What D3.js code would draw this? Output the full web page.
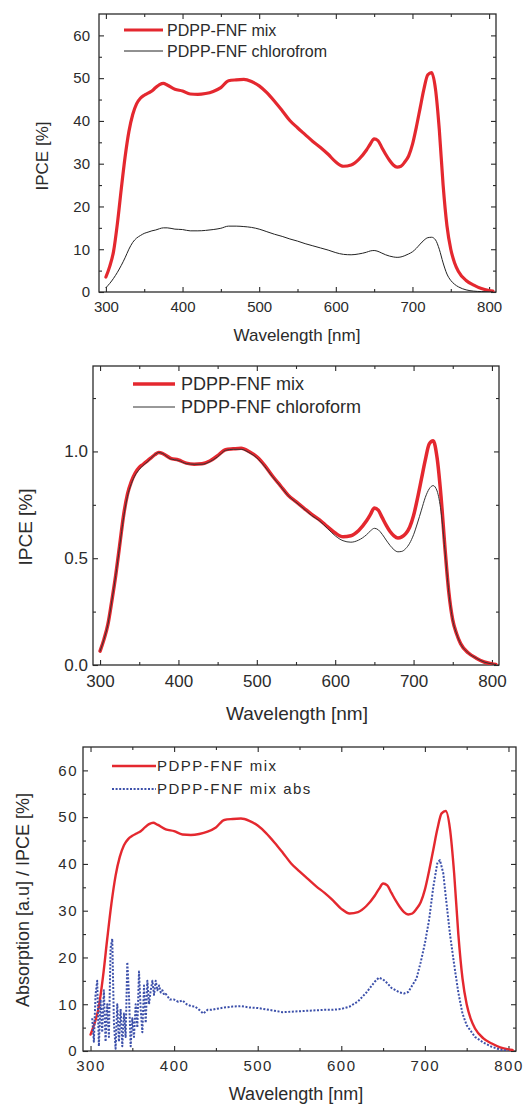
<!DOCTYPE html>
<html>
<head>
<meta charset="utf-8">
<script src="https://cdn.jsdelivr.net/npm/d3@7"></script>
<style>
  body { margin: 0; background: #fff; }
  svg { display: block; font-family: "Liberation Sans", Arial, sans-serif; }
</style>
</head>
<body>
<script>
// wavelength grid used by the IPCE curves (nm)
var wavelength = [300,305,310,315,320,325,330,335,340,345,350,355,360,365,370,375,380,
  390,400,410,420,430,440,450,460,470,480,490,500,510,520,530,540,550,560,570,580,590,600,610,620,630,640,
  645,650,655,660,665,670,675,680,685,690,695,700,705,710,715,720,725,730,735,740,745,750,755,760,
  770,780,790,800,805];

// IPCE [%] - PDPP-FNF mix
var ipceMix = [3.5,6,9.5,16,24,31.5,37.5,41.5,44,45.3,46,46.5,47,47.8,48.5,48.8,48.4,
  47.4,47,46.3,46.2,46.4,46.9,47.8,49.4,49.6,49.7,49.2,48.2,46.6,44.6,42.4,40.1,38.4,36.8,35.2,33.8,32.2,30.4,29.4,29.7,31,33.2,
  34.6,35.8,35.4,33.8,32.2,30.8,29.7,29.2,29.4,30.4,31.8,34.5,38.5,43,47.5,50.8,51.3,47.5,38,25,15.5,10,6.8,4.8,
  2.7,1.6,0.8,0.35,0.2];

// IPCE [%] - PDPP-FNF chloroform
var ipceChloroform = [1,2,3.2,4.6,6.2,8,10,11.6,12.6,13.2,13.7,14,14.3,14.5,14.8,15,15,
  14.7,14.6,14.3,14.3,14.4,14.6,14.9,15.4,15.4,15.3,15.1,14.7,14.1,13.5,13,12.4,11.9,11.3,10.8,10.3,9.8,9.2,8.8,8.7,8.9,9.3,
  9.6,9.7,9.5,9.1,8.7,8.4,8.2,8.1,8.2,8.5,8.9,9.4,10.2,11.2,12.1,12.7,12.8,12.2,10,6.8,4.2,2.7,1.8,1.2,
  0.5,0.2,0.1,0.05,0.03];

// normalised IPCE (middle panel)
var normMix = [0.065,0.12,0.19,0.3,0.42,0.56,0.7,0.8,0.86,0.9,0.925,0.94,0.955,0.97,0.985,0.995,0.99,
  0.968,0.96,0.945,0.94,0.942,0.955,0.98,1.008,1.012,1.015,1.0,0.975,0.935,0.885,0.84,0.795,0.765,0.735,0.705,0.68,0.648,0.618,0.6,0.605,0.63,0.675,
  0.705,0.735,0.725,0.69,0.655,0.625,0.605,0.595,0.6,0.615,0.645,0.7,0.78,0.87,0.96,1.035,1.05,0.97,0.79,0.55,0.34,0.21,0.145,0.1,
  0.056,0.032,0.014,0.005,0.002];

var normChloroform = [0.065,0.12,0.19,0.3,0.42,0.555,0.69,0.79,0.85,0.89,0.915,0.935,0.95,0.968,0.985,0.995,0.99,
  0.965,0.958,0.943,0.94,0.94,0.952,0.975,1.005,1.01,1.01,0.995,0.97,0.93,0.882,0.838,0.793,0.762,0.732,0.7,0.675,0.64,0.605,0.582,0.575,0.585,0.61,
  0.628,0.64,0.633,0.612,0.585,0.56,0.54,0.53,0.532,0.545,0.57,0.61,0.665,0.725,0.785,0.825,0.84,0.815,0.72,0.54,0.34,0.21,0.145,0.1,
  0.056,0.032,0.014,0.005,0.002];

// absorption of the mix film (a.u.), noisy in the UV
var absWavelength = [302,304,306,308,310,312,314,316,318,320,322,324,326,328,330,332,334,336,338,340,
  342,344,346,348,350,352,354,356,358,360,362,364,366,368,370,372,374,376,378,380,
  382,384,386,388,390,395,400,405,410,415,420,425,430,435,440,445,450,460,470,480,490,500,
  510,520,530,540,550,560,570,580,590,600,610,620,630,640,645,650,655,660,670,675,680,
  690,695,700,705,710,715,718,722,725,730,735,740,745,750,760,770,780,790,800];
var absMix = [7,2,12,15,1,11,4,13,2,10,3,22,24,6,0.5,10,2,9,1,8,
  3,19,12,1,7,3,10,5,17,9,4,14,6,15,10,13,15,12,15,13,
  14,12.5,13,12,12.2,11,11,10.5,10.8,10,9.6,9.5,8.8,8,8.8,8.8,9,9.3,9.5,9.6,9.3,9.2,
  8.9,8.6,8.3,8.4,8.5,8.6,8.7,8.8,8.8,9,9.5,10.6,12.5,14.8,15.7,15.3,14.5,13.5,12.5,12.3,12.6,
  15.5,19,23,28,35,40.3,40.8,38,33,25,18.5,12.5,8,5.5,3,1.8,0.9,0.3,0];

var xTicks = [300,400,500,600,700,800];
var xMinor = [350,450,550,650,750];
var ipceTicks = [0,10,20,30,40,50,60];
var ipceMinor = [5,15,25,35,45,55];
var normTicks = [0,0.5,1.0];
var normMinor = [0.25,0.75,1.25];

var RED = "#e4282f";
var INK = "#2b2b2b";

var svg = d3.select("body").append("svg")
  .attr("width", 525)
  .attr("height", 1106);

function drawPanel(o){
  var x = d3.scaleLinear().domain([291, 809]).range([o.left, o.right]);
  var y = d3.scaleLinear().domain(o.yDomain).range([o.bottom, o.top]);
  var g = svg.append("g").attr("class", o.id);

  var clipId = "clip-" + o.id;
  g.append("clipPath").attr("id", clipId)
    .append("rect")
    .attr("x", o.left).attr("y", o.top)
    .attr("width", o.right - o.left).attr("height", o.bottom - o.top);

  // ticks on all four sides, pointing inward
  function addAxis(axis, tx, ty, vals, size, fmt){
    var a = g.append("g")
      .attr("transform", "translate(" + tx + "," + ty + ")")
      .call(axis.tickValues(vals).tickSize(-size).tickPadding(o.pad).tickFormat(fmt));
    a.select(".domain").remove();
    a.selectAll("line").attr("stroke", INK).attr("stroke-width", 1.1);
    a.selectAll("text")
      .attr("fill", INK)
      .style("font-size", o.tickFont + "px")
      .style("letter-spacing", o.spacing + "px");
    return a;
  }
  var blank = function(){ return ""; };
  addAxis(d3.axisBottom(x), 0, o.bottom, xTicks, 5, d3.format("d"));
  addAxis(d3.axisBottom(x), 0, o.bottom, xMinor, 3, blank);
  addAxis(d3.axisTop(x), 0, o.top, xTicks, 5, blank);
  addAxis(d3.axisTop(x), 0, o.top, xMinor, 3, blank);
  addAxis(d3.axisLeft(y), o.left, 0, o.yTicks, 5, o.yFormat)
    .selectAll("text").attr("x", o.yLabelX - o.left);
  addAxis(d3.axisLeft(y), o.left, 0, o.yMinor, 3, blank);
  addAxis(d3.axisRight(y), o.right, 0, o.yTicks, 5, blank);
  addAxis(d3.axisRight(y), o.right, 0, o.yMinor, 3, blank);

  g.append("rect")
    .attr("x", o.left).attr("y", o.top)
    .attr("width", o.right - o.left).attr("height", o.bottom - o.top)
    .attr("fill", "none").attr("stroke", INK).attr("stroke-width", 1.3);

  var plot = g.append("g").attr("clip-path", "url(#" + clipId + ")");
  o.series.forEach(function(s){
    var pts = s.xs.map(function(v, i){ return [v, s.ys[i]]; });
    var line = d3.line()
      .x(function(d){ return x(d[0]); })
      .y(function(d){ return y(d[1]); })
      .curve(s.curve || d3.curveMonotoneX);
    plot.append("path")
      .attr("fill", "none")
      .attr("stroke", s.color)
      .attr("stroke-width", s.width)
      .attr("stroke-dasharray", s.dash || null)
      .attr("stroke-linejoin", "round")
      .attr("stroke-linecap", s.dash ? "butt" : "round")
      .attr("d", line(pts));
  });

  // legend
  o.series.forEach(function(s, i){
    var ly = o.legend.y + i * o.legend.dy;
    g.append("line")
      .attr("x1", o.legend.x1).attr("x2", o.legend.x2)
      .attr("y1", ly).attr("y2", ly)
      .attr("stroke", s.color).attr("stroke-width", s.width)
      .attr("stroke-dasharray", s.dash || null);
    g.append("text")
      .attr("x", o.legend.tx).attr("y", ly + o.legend.font * 0.36)
      .attr("fill", INK)
      .style("font-size", o.legend.font + "px")
      .style("letter-spacing", o.spacing + "px")
      .text(s.name);
  });

  // axis titles
  g.append("text")
    .attr("x", o.xTitle[0]).attr("y", o.xTitle[1])
    .attr("text-anchor", "middle")
    .attr("fill", INK)
    .style("font-size", o.titleFont + "px")
    .text("Wavelength [nm]");
  g.append("text")
    .attr("transform", "translate(" + o.yTitle[0] + "," + o.yTitle[1] + ") rotate(-90)")
    .attr("text-anchor", "middle")
    .attr("dy", "0.35em")
    .attr("fill", INK)
    .style("font-size", o.titleFont + "px")
    .text(o.yLabel);
}

drawPanel({
  id: "p1", left: 99, right: 496, top: 14, bottom: 292,
  yDomain: [0, 65], yTicks: ipceTicks, yMinor: ipceMinor, yFormat: d3.format("d"),
  pad: 9, yLabelX: 90, tickFont: 15, spacing: 0, titleFont: 17,
  xTitle: [297, 341], yTitle: [42, 156], yLabel: "IPCE [%]",
  legend: { x1: 124, x2: 163, tx: 167, y: 30, dy: 21, font: 16 },
  series: [
    { name: "PDPP-FNF mix", xs: wavelength, ys: ipceMix, color: RED, width: 3.2 },
    { name: "PDPP-FNF chlorofrom", xs: wavelength, ys: ipceChloroform, color: "#222", width: 1 }
  ]
});

drawPanel({
  id: "p2", left: 93, right: 499, top: 366, bottom: 665,
  yDomain: [0, 1.4], yTicks: normTicks, yMinor: normMinor, yFormat: d3.format(".1f"),
  pad: 10, yLabelX: 88, tickFont: 17, spacing: 0, titleFont: 19,
  xTitle: [297, 720], yTitle: [25, 527], yLabel: "IPCE [%]",
  legend: { x1: 133, x2: 175, tx: 181, y: 384, dy: 23, font: 18 },
  series: [
    { name: "PDPP-FNF mix", xs: wavelength, ys: normMix, color: RED, width: 3.5 },
    { name: "PDPP-FNF chloroform", xs: wavelength, ys: normChloroform, color: "#333", width: 1 }
  ]
});

drawPanel({
  id: "p3", left: 83, right: 516, top: 747, bottom: 1051,
  yDomain: [0, 65], yTicks: ipceTicks, yMinor: ipceMinor, yFormat: d3.format("d"),
  pad: 9, yLabelX: 78, tickFont: 15, spacing: 1.5, titleFont: 18,
  xTitle: [296, 1100], yTitle: [23, 900], yLabel: "Absorption [a.u] / IPCE [%]",
  legend: { x1: 112, x2: 156, tx: 157, y: 766, dy: 23, font: 15 },
  series: [
    { name: "PDPP-FNF mix", xs: wavelength, ys: ipceMix, color: RED, width: 2.4 },
    { name: "PDPP-FNF mix abs", xs: absWavelength, ys: absMix, color: "#3c50aa", width: 2, dash: "2,1.6", curve: d3.curveLinear }
  ]
});
</script>
</body>
</html>
